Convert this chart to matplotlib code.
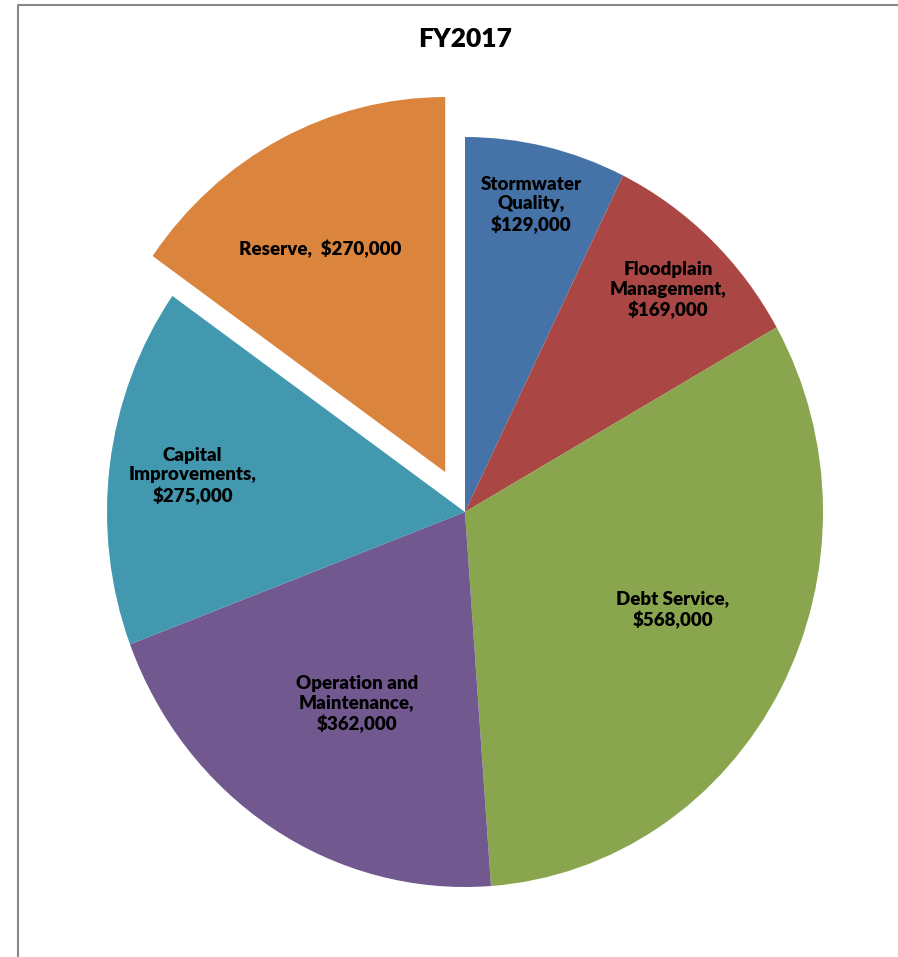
import numpy as np
import matplotlib.pyplot as plt
from matplotlib.lines import Line2D

# data
categories = ["Stormwater\nQuality,", "Floodplain\nManagement,", "Debt Service,",
              "Operation and\nMaintenance,", "Capital\nImprovements,", "Reserve,  "]
values = [129000, 169000, 568000, 362000, 275000, 270000]
colors = ["#4572A7", "#AA4643", "#89A54E", "#71588F", "#4198AF", "#DB843D"]
explode = [0, 0, 0, 0, 0, 0.12]

# label placement (fraction of radius, angle tweak in degrees)
label_r = [0.84, 0.82, 0.637, 0.594, 0.767, 0.69]
label_dang = [0.4, -0.4, 4.0, 2.0, 0.0, 3.0]

W, H = 898, 957
fig = plt.figure(figsize=(W / 100, H / 100), dpi=100)

# frame around the chart area: only the left and top edges are inside the image
fig.add_artist(Line2D([18 / W, 18 / W, 1.0], [0.0, 1 - 5 / H, 1 - 5 / H],
                      transform=fig.transFigure, color="#878787", linewidth=1.5,
                      solid_capstyle="butt", clip_on=False))

# pie centre at (465, 512) px, radii 358 x 375 px
cx, cy, rx, ry = 465, 512, 358, 375
ax = fig.add_axes([(cx - rx) / W, (H - cy - ry) / H, 2 * rx / W, 2 * ry / H])

wedges, _ = ax.pie(values, colors=colors, explode=explode, startangle=90,
                   counterclock=False, wedgeprops=dict(linewidth=0, clip_on=False))
ax.set_aspect("auto")
ax.set_xlim(-1, 1)
ax.set_ylim(-1, 1)
ax.axis("off")

for w, cat, v, r, da in zip(wedges, categories, values, label_r, label_dang):
    ang = np.deg2rad((w.theta1 + w.theta2) / 2 + da)
    x = w.center[0] + r * np.cos(ang)
    y = w.center[1] + r * np.sin(ang)
    sep = "" if cat.endswith(" ") else "\n"
    ax.text(x, y, f"{cat}{sep}${v:,.0f}", ha="center", va="center",
            multialignment="center", fontsize=13.5, fontweight="heavy",
            family=["Lato", "DejaVu Sans"], linespacing=1.2, color="black")

fig.text(465 / W, 1 - 39 / H, "FY2017", ha="center", va="center",
         fontsize=19, fontweight="heavy", family=["Lato", "DejaVu Sans"])

fig.savefig("out.png", dpi=100)
